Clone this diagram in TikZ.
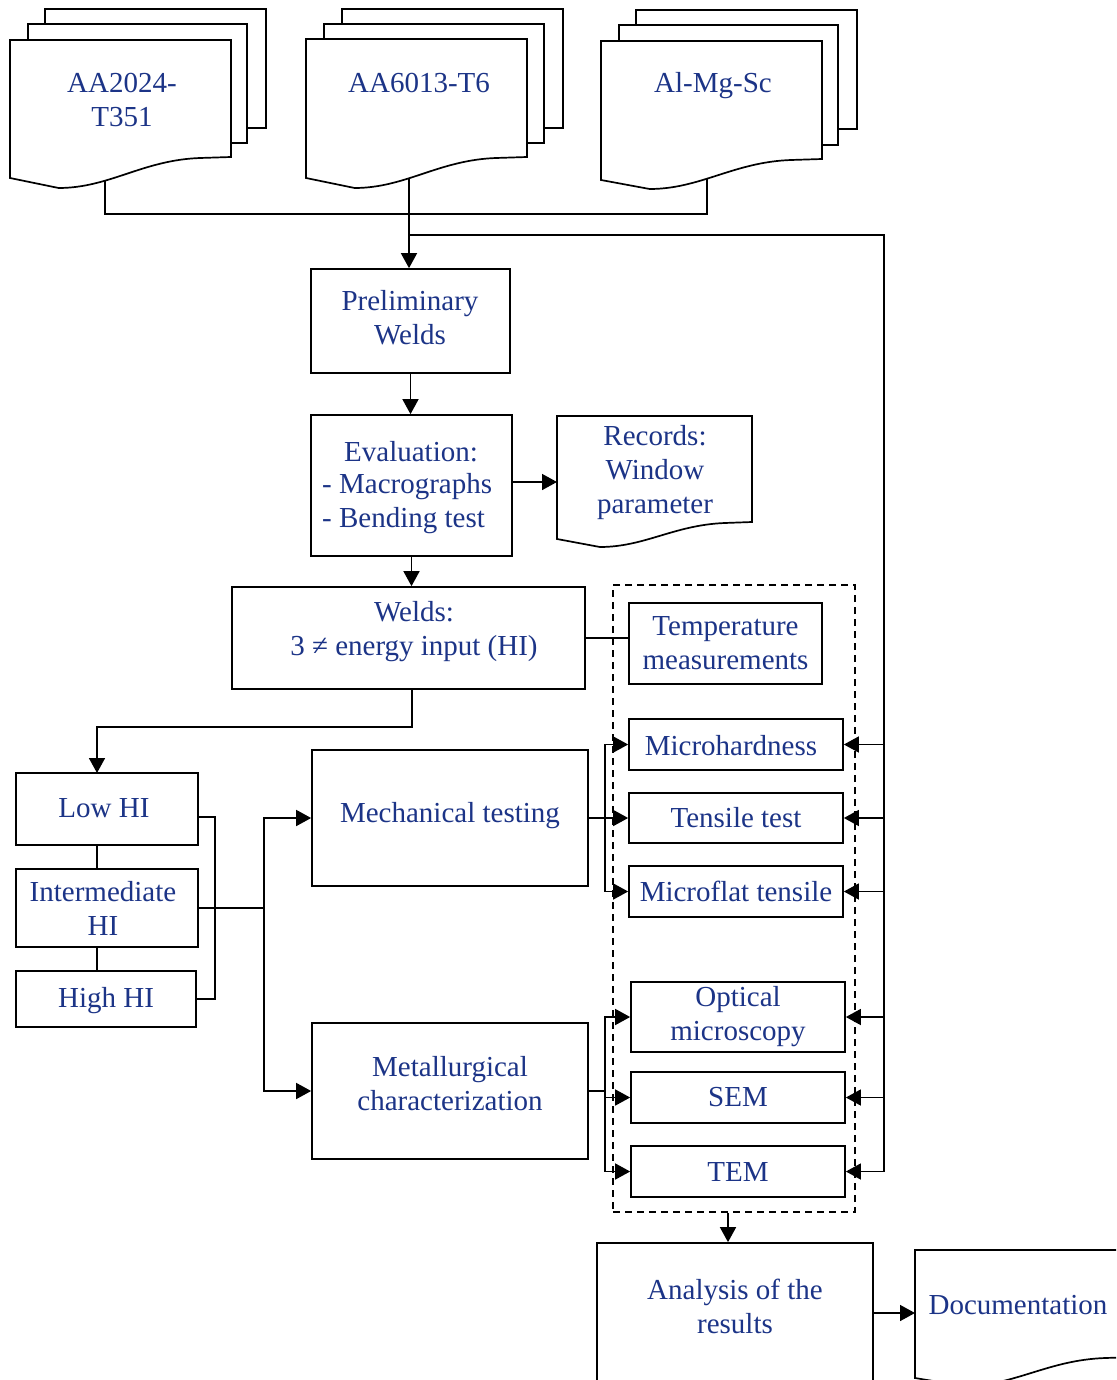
\documentclass[tikz,border=0pt]{standalone}
\usepackage{fontspec}
\setmainfont{Liberation Serif}
\usetikzlibrary{arrows.meta,calc}
\definecolor{txt}{RGB}{28,52,135}
\newcommand\docshape[6]{%
 \draw[docsh] (#1,#2) -- (#3,#2) -- (#3,#4) -- ({#3-0.14*(#3-#1)},{#4+1}) .. controls ({#3-0.4*(#3-#1)},{#4+3}) and ({#1+0.45*(#3-#1)},#6) .. ({#1+0.22*(#3-#1)},#6) -- (#1,#5) -- cycle;}
\begin{document}
\begin{tikzpicture}[x=1pt,y=-1pt,
 box/.style={draw,line width=1.7pt,fill=white,inner sep=0pt,align=center},
 docsh/.style={draw,line width=1.7pt,fill=white},
 ln/.style={line width=1.6pt},
 arr/.style={line width=1.6pt,-{Triangle[length=15pt,width=16pt]}},
 grpbox/.style={draw,dash pattern=on 7pt off 5pt,line width=1.5pt,inner sep=0pt},
 every node/.style={font=\fontsize{29}{34}\selectfont,text=txt}]
\useasboundingbox (0,0) rectangle (1116,1380);
\clip (0,0) rectangle (1116,1380);

% group frame
\node[grpbox,minimum width=242,minimum height=627] (grp) at (734,898.5) {};

% boxes
\node[box,minimum width=199,minimum height=104] (pre) at (410.5,321) {};
\node[align=center] (pret) at (410,318) {Preliminary\\Welds};
\node[box,minimum width=201,minimum height=141] (eva) at (411.5,485.5) {};
\node (evat1) at (411,452) {Evaluation:};
\node[anchor=west,inner xsep=0pt] (evat2) at (322,487) {- Macrographs};
\node[anchor=west,inner xsep=0pt] (evat3) at (322,521) {- Bending test};
\node[box,minimum width=353,minimum height=102] (wel) at (408.5,638) {};
\node[align=center] (welt) at (414,632) {Welds:\\3 ≠ energy input (HI)};
\node[box,minimum width=193,minimum height=81] (tmp) at (725.5,643.5) {Temperature\\measurements};
\node[box,minimum width=182,minimum height=72] (low) at (107,809) {};
\node (lowt) at (104,808) {Low HI};
\node[box,minimum width=182,minimum height=78] (inter) at (107,908) {};
\node[align=center] (intert) at (103,908) {Intermediate\\HI};
\node[box,minimum width=180,minimum height=56] (high) at (106,999) {};
\node (hight) at (106,1001) {High HI};
\node[box,minimum width=276,minimum height=136] (mech) at (450,818) {};
\node (mecht) at (450,816) {Mechanical testing};
\node[box,minimum width=276,minimum height=136] (metal) at (450,1091) {};
\node[align=center] (metalt) at (450,1084) {Metallurgical\\characterization};
\node[box,minimum width=214,minimum height=51] (mh) at (736,744.5) {};
\node (mht) at (731,746) {Microhardness};
\node[box,minimum width=214,minimum height=50] (tt) at (736,818) {Tensile test};
\node[box,minimum width=214,minimum height=51] (mf) at (736,891.5) {Microflat tensile};
\node[box,minimum width=214,minimum height=70] (om) at (738,1017) {Optical\\microscopy};
\node[box,minimum width=214,minimum height=51] (sem) at (738,1097.5) {SEM};
\node[box,minimum width=214,minimum height=51] (tem) at (738,1171.5) {TEM};
\node[box,minimum width=276,minimum height=157] (ana) at (735,1321.5) {};
\node[align=center] (anatext) at (735,1306) {Analysis of the\\results};

% coordinates
\coordinate (s1) at (105,170);
\coordinate (s1b) at (105,214);
\coordinate (s3) at (707,170);
\coordinate (s3b) at (707,214);
\coordinate (s2) at (409,170);
\coordinate (j2) at (409,235);
\coordinate (fb) at (884,235);
\coordinate (recw) at (557,482);
\coordinate (wd) at (412,689);
\coordinate (lowtop) at (97,773);
\coordinate (bt) at (215,817);
\coordinate (bb) at (215,999);
\coordinate (hj) at (264,908);
\coordinate (mb) at (605,818);
\coordinate (tb) at (605,1091);
\coordinate (docw) at (915,1313);

% top connectors
\draw[ln] (s1) -- (s1b) -- (s3b) -- (s3);
\draw[arr] (s2) -- (s2 |- pre.north);
\draw[ln] (j2) -- (fb) -- (fb |- tem.east);

% main chain
\draw[arr] (pre.south) -- (pre.south |- eva.north);
\draw[arr] (eva.east |- recw) -- (recw);
\draw[arr] (eva.south) -- (eva.south |- wel.north);
\draw[ln] (wel.east) -- (tmp.west |- wel.east);
\draw[arr] (wd) -- ++(0,38) -| (lowtop);

% HI group
\draw[ln] (low.south -| lowtop) -- (inter.north -| lowtop);
\draw[ln] (inter.south -| lowtop) -- (high.north -| lowtop);
\draw[ln] (low.east |- bt) -- (bt) -- (bb) -- (high.east |- bb);
\draw[ln] (inter.east) -- (hj);
\draw[arr] (hj) |- (mech.west);
\draw[arr] (hj) |- (metal.west);

% tests
\draw[ln] (mech.east) -- (mb);
\draw[arr] (mb) |- (mh.west);
\draw[arr] (mb) -- (tt.west);
\draw[arr] (mb) |- (mf.west);
\draw[ln] (metal.east) -- (tb);
\draw[arr] (tb) |- (om.west);
\draw[arr] (tb) |- (sem.west);
\draw[arr] (tb) |- (tem.west);
\foreach \n in {mh,tt,mf,om,sem,tem} \draw[arr] (fb |- \n.east) -- (\n.east);

% bottom
\draw[arr] ([xshift=-6pt]grp.south) -- ([xshift=-6pt]grp.south |- ana.north);
\draw[arr] (ana.east |- docw) -- (docw);

% documents
\draw[docsh] (45,9) rectangle (266,128);
\draw[docsh] (28,24) rectangle (247,143);
\docshape{10}{40}{231}{157}{178}{188}
\node[align=center] (d1) at (122,100) {AA2024-\\T351};

\draw[docsh] (342,9) rectangle (563,128);
\draw[docsh] (324,24) rectangle (544,143);
\docshape{306}{39}{527}{157}{178}{188}
\node (d2) at (419,83) {AA6013-T6};

\draw[docsh] (636,10) rectangle (857,129);
\draw[docsh] (619,25) rectangle (838,145);
\docshape{601}{41}{822}{159}{180}{189}
\node (d3) at (713,86) {Al-Mg-Sc};

\docshape{557}{416}{752}{522}{539}{547}
\node[align=center] (rec) at (655,473) {Records:\\Window\\parameter};

\docshape{915}{1250}{1136}{1357}{1378}{1386}
\node (doc) at (1018,1305) {Documentation};
\end{tikzpicture}
\end{document}
